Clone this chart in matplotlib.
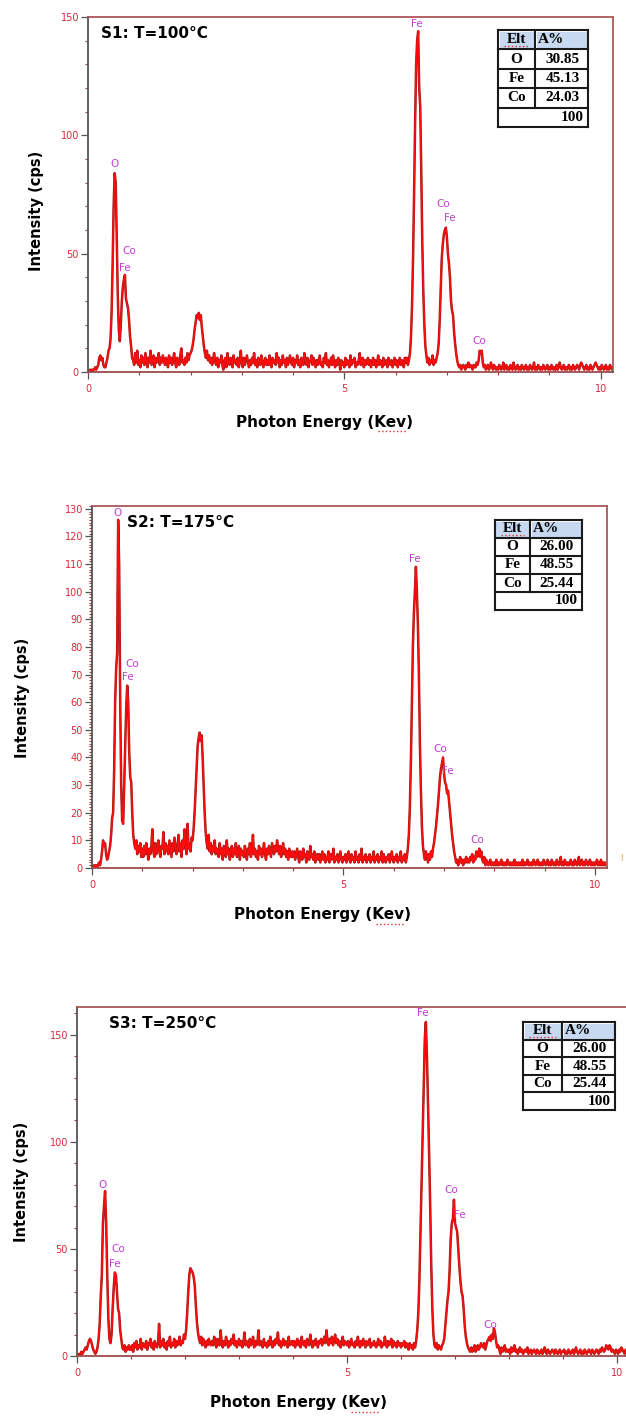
import numpy as np
import matplotlib
matplotlib.use('Agg')
import matplotlib.pyplot as plt
from matplotlib.patches import Rectangle
from matplotlib.lines import Line2D
from matplotlib.ticker import MultipleLocator

W, H = 626, 1416
STEP = 0.02  # keV per channel

# counts (cps) per 0.02 keV channel
s1_counts = [
    0,0,1,0,1, 1,1,2,1,2, 3,6,7,5,6, 3,2,2,4,6, 9,10,14,25,45,
    70,84,80,58,33, 18,13,20,30,36, 39,41,31,29,27, 22,15,11,6,5, 3,8,4,9,3,
    5,2,7,4,6, 3,8,5,2,6, 4,9,3,5,7, 2,6,4,5,8, 3,6,4,7,5,
    3,6,5,2,7, 4,6,3,5,8, 4,2,6,5,3, 7,10,4,5,3, 6,4,8,5,7,
    8,9,11,14,18, 21,24,23,25,22, 24,19,15,11,8, 6,9,5,7,4, 6,3,5,8,4,
    3,6,2,5,4, 7,3,1,5,6, 2,8,4,3,6, 5,2,7,4,5, 3,6,2,4,9,
    4,2,6,3,5, 7,4,2,5,3, 6,4,8,3,5, 2,6,4,3,7, 5,2,4,6,3,
    5,3,7,4,2, 6,4,5,3,8, 4,6,2,5,3, 7,4,5,2,6, 3,5,7,4,3,
    6,2,5,4,7, 3,5,2,6,4, 3,8,5,3,6, 2,4,5,7,3, 6,4,2,5,3,
    5,7,3,4,2, 6,4,8,3,5, 2,4,6,3,7, 4,2,5,3,6, 4,1,5,3,4,
    2,6,3,5,4, 2,7,3,5,4, 6,2,4,3,5, 8,3,4,6,2, 5,3,4,6,3,
    5,2,4,6,3, 5,2,4,7,3, 5,4,2,6,3, 4,5,2,6,4, 3,5,2,4,6,
    3,5,2,4,6, 3,5,4,2,6, 4,6,3,5,8, 15,28,48,75,105, 130,140,144,120,112,
    85,55,34,20,11, 7,4,6,3,5, 4,7,3,5,4, 6,8,12,22,35, 48,54,58,60,61,
    57,50,46,40,30, 26,24,17,12,8, 5,3,2,3,1, 2,3,2,1,3, 2,4,2,3,2,
    1,3,2,2,4, 3,5,9,8,9, 4,2,3,1,2, 3,1,2,4,2, 1,3,2,1,2,
    1,3,2,1,2, 4,1,2,3,1, 2,1,3,2,1, 4,2,1,2,3, 1,2,1,3,2,
    1,2,3,1,2, 1,3,2,1,2, 4,1,2,1,3, 2,1,2,1,3, 2,1,2,3,1,
    2,1,3,2,1, 2,1,3,1,2, 4,2,1,2,3, 1,2,1,2,3, 1,2,1,3,2,
    1,2,3,2,1, 3,4,3,2,1, 2,3,1,2,1, 3,2,1,2,3, 4,3,2,1,2,
    1,3,2,1,2, 3,1,2,1,3, 2,1,2,
]
s2_counts = [
    0,0,1,0,1, 0,1,2,1,3, 6,10,8,9,5, 3,4,6,8,12, 18,20,35,60,72,
    78,126,110,62,30, 17,16,30,45,58, 66,60,42,33,31, 20,12,9,7,10, 5,8,6,9,4,
    7,4,8,5,9, 6,3,7,5,8, 14,6,4,9,5, 7,10,6,4,8, 7,13,5,9,6,
    8,5,10,7,4, 9,6,11,8,5, 7,12,6,9,4, 10,7,14,8,5, 16,7,9,6,11,
    10,14,20,28,36, 44,47,49,46,48, 40,30,20,13,9, 7,12,6,9,5, 8,6,10,5,7,
    6,4,9,5,7, 3,8,6,4,10, 5,7,3,6,8, 4,7,5,9,4, 6,8,3,7,5,
    6,4,8,5,3, 7,5,9,4,6, 12,5,7,4,6, 3,8,5,7,4, 6,9,5,3,7,
    5,8,6,4,9, 7,5,8,6,10, 7,5,8,4,6, 9,5,7,4,6, 3,7,5,4,6,
    4,6,3,5,7, 4,2,6,5,3, 7,4,5,2,6, 4,3,8,4,5, 3,6,2,4,5,
    3,5,2,4,6, 3,5,2,4,3, 6,2,5,3,4, 7,2,4,3,5, 2,4,6,3,2,
    4,3,5,2,4, 6,3,2,5,3, 4,2,6,3,4, 2,5,3,7,2, 4,3,5,2,4,
    3,5,2,4,3, 6,2,4,3,5, 2,4,3,6,2, 5,3,2,4,3, 5,2,4,6,3,
    2,4,3,5,2, 4,3,6,2,4, 3,5,2,4,7, 12,22,38,58,80, 92,100,109,100,88,
    70,45,28,15,8, 5,3,6,4,2, 5,3,6,4,7, 9,12,15,19,23, 28,33,36,38,40,
    34,31,30,27,28, 24,20,16,12,9, 6,4,2,3,1, 2,4,2,3,1, 3,2,4,2,3,
    2,4,3,5,2, 4,3,6,4,5, 7,4,6,3,2, 4,1,3,2,1, 2,3,1,2,1,
    2,1,3,1,2, 1,2,3,1,2, 1,2,1,3,2, 1,2,1,2,1, 3,1,2,1,2,
    1,2,1,3,1, 2,1,2,3,1, 2,1,2,1,3, 2,1,2,3,1, 2,1,2,1,3,
    2,1,2,3,1, 2,1,3,2,1, 2,1,3,2,1, 2,4,1,2,1, 3,2,1,2,1,
    2,3,1,2,1, 3,2,1,2,4, 1,2,3,1,2, 1,3,2,1,2, 3,1,2,1,2,
    1,2,3,1,2, 1,3,1,2,1, 2,1,1,
]
s3_counts = [
    0,0,1,0,2, 1,2,3,4,3, 5,7,8,7,5, 3,2,1,2,4, 8,15,28,38,62,
    70,77,62,38,18, 8,6,10,22,32, 39,38,30,22,20, 12,8,4,3,5, 2,4,3,5,3,
    3,5,2,6,4, 7,3,5,4,8, 3,6,5,4,7, 3,6,5,8,4, 6,3,7,5,4,
    6,15,4,7,5, 8,4,6,3,7, 5,9,4,6,5, 8,4,7,5,6, 9,5,7,6,10,
    8,12,20,30,38, 41,40,39,37,33, 24,16,11,8,6, 9,5,8,6,4, 7,5,8,6,5,
    7,5,9,6,4, 8,6,5,12,6, 4,7,5,9,6, 4,7,5,8,6, 10,5,7,4,6,
    8,5,7,4,6, 11,5,7,6,4, 8,5,6,9,4, 7,5,6,12,5, 7,6,4,8,5,
    6,4,7,5,9, 6,4,7,5,8, 6,11,5,7,4, 6,8,5,7,6, 4,9,5,6,7,
    5,7,4,6,8, 5,7,4,9,6, 5,7,4,8,6, 5,10,6,4,7, 5,8,6,4,7,
    6,8,5,7,9, 6,12,7,5,8, 6,9,5,7,10, 6,8,5,7,4, 6,9,5,7,6,
    5,7,4,6,8, 5,6,4,7,5, 9,6,4,7,5, 8,6,4,7,5, 6,8,4,6,5,
    7,5,4,6,8, 5,7,4,6,5, 9,6,4,7,5, 6,8,4,7,5, 6,4,7,5,6,
    4,6,5,7,4, 6,5,3,6,4, 5,3,6,4,7, 12,20,35,58,80, 105,128,148,156,140,
    118,95,70,42,22, 10,5,4,6,3, 5,4,3,5,6, 8,14,20,26,30, 40,55,62,64,73,
    62,60,58,50,42, 35,30,28,22,14, 9,6,4,3,2, 4,2,3,5,2, 3,5,3,4,6,
    5,4,6,3,5, 7,8,9,7,10, 8,13,11,7,4, 5,3,1,4,2, 3,5,2,3,2,
    3,1,4,2,3, 5,2,3,1,2, 4,2,3,1,2, 3,2,4,1,2, 3,1,2,3,2,
    1,3,2,1,2, 3,1,2,4,2, 1,3,2,1,2, 3,2,1,3,2, 1,2,3,1,2,
    2,3,1,2,1, 3,2,1,2,3, 1,2,4,2,1, 2,3,1,2,1, 3,2,1,2,3,
    2,1,3,2,1, 2,3,2,1,3, 2,4,3,2,3, 5,4,3,5,4, 2,3,2,1,3,
    2,1,3,2,4, 3,2,1,3,2, 1,2,3,
]

titles = ['S1: T=100°C', 'S2: T=175°C', 'S3: T=250°C']
elements = ['O', 'Fe', 'Co']
s1_atomic = ['30.85', '45.13', '24.03']
s2_atomic = ['26.00', '48.55', '25.44']
s3_atomic = ['26.00', '48.55', '25.44']
total = '100'

peak_names = ['O', 'Co', 'Fe', 'Fe', 'Co', 'Fe', 'Co']
s1_peak_x = [0.51, 0.80, 0.72, 6.41, 6.92, 7.06, 7.64]
s1_peak_y = [88, 51, 44, 147, 71, 65, 13]
s2_peak_x = [0.50, 0.80, 0.71, 6.41, 6.93, 7.07, 7.66]
s2_peak_y = [128.5, 74, 69, 112, 43, 35, 10]
s3_peak_x = [0.48, 0.77, 0.70, 6.41, 6.93, 7.08, 7.65]
s3_peak_y = [80, 50, 43, 160, 77.5, 66, 14.5]

# layout in pixels of the reference: (left, top, right, bottom)
ax_boxes = [(88, 17, 613, 372), (92, 506, 607, 868), (77, 1007, 630, 1356)]
ylims = [150, 131, 163]
ymajor = [50, 10, 50]
yminor = [10, 1, 10]
table_boxes = [(498, 30, 588, 127, 535), (495, 520, 582, 610, 530), (523, 1022, 615, 1110, 562)]
title_pos = [(101, 33), (127, 523), (109, 1023)]
ylabel_pos = [(36, 211), (23, 698), (22, 1182)]
xlabel_pos = [(325, 423), (323, 915), (298, 1403)]

fig = plt.figure(figsize=(W / 100, H / 100), dpi=100)


def fx(px):
    return px / W


def fy(py):
    return 1 - py / H


def line(x0, y0, x1, y1, **kw):
    fig.add_artist(Line2D([fx(x0), fx(x1)], [fy(y0), fy(y1)], transform=fig.transFigure, **kw))


def draw_table(box, values):
    left, top, right, bottom, split = box
    rows = [('Elt', 'A%')] + list(zip(elements, values)) + [('', total)]
    rh = (bottom - top) / len(rows)
    for c0, c1 in [(left, split), (split, right)]:
        fig.add_artist(Rectangle((fx(c0 + 1.5), fy(top + rh - 1)), (c1 - c0 - 3) / W, (rh - 2.5) / H,
                                 transform=fig.transFigure, facecolor='#c6d9f1', edgecolor='none'))
    k = dict(color='#1a1a1a', lw=1.5)
    for i in range(len(rows) + 1):
        line(left, top + i * rh, right, top + i * rh, **k)
    line(left, top, left, bottom, **k)
    line(right, top, right, bottom, **k)
    line(split, top, split, bottom - rh, **k)
    f = dict(family='Liberation Serif', weight='bold', size=11, va='center')
    for i, (a, b) in enumerate(rows):
        yc = fy(top + (i + 0.5) * rh)
        fig.text(fx((left + split) / 2), yc, a, ha='center', **f)
        if i == 0:
            fig.text(fx(split + 3), yc, b, ha='left', **f)
        elif i == len(rows) - 1:
            fig.text(fx(right - 4), yc, b, ha='right', **f)
        else:
            fig.text(fx((split + right) / 2 + 1), yc, b, ha='center', **f)
    line(left + 6, top + rh - 3, split - 6, top + rh - 3, color='#e03030', lw=1, ls=':')


all_counts = [s1_counts, s2_counts, s3_counts]
all_atomic = [s1_atomic, s2_atomic, s3_atomic]
all_px = [s1_peak_x, s2_peak_x, s3_peak_x]
all_py = [s1_peak_y, s2_peak_y, s3_peak_y]

renderer = fig.canvas.get_renderer()
for i in range(3):
    l, t, r, b = ax_boxes[i]
    ax = fig.add_axes([fx(l), fy(b), (r - l) / W, (b - t) / H])
    counts = np.array(all_counts[i])
    energy = np.arange(len(counts)) * STEP
    ax.plot(energy, counts, color='#a81818', lw=1.8)
    ax.plot(energy, counts, color='#ff0d0d', lw=1.0)
    ax.set_xlim(0, 10.24)
    ax.set_ylim(0, ylims[i])
    ax.xaxis.set_major_locator(MultipleLocator(5))
    ax.xaxis.set_minor_locator(MultipleLocator(1))
    ax.yaxis.set_major_locator(MultipleLocator(ymajor[i]))
    ax.yaxis.set_minor_locator(MultipleLocator(yminor[i]))
    ax.tick_params(which='major', length=5, width=0.9, color='#555555',
                   labelsize=7, labelcolor='#d62a3a', pad=1.5)
    ax.tick_params(which='minor', length=2.5, width=0.8, color='#a03a3a')
    ax.tick_params(axis='x', which='both', pad=4)
    ax.spines['top'].set_color('#a85858')
    ax.spines['right'].set_color('#a85858')
    ax.spines['left'].set_color('#555555')
    ax.spines['bottom'].set_color('#9b4b4b')
    for s in ax.spines.values():
        s.set_linewidth(1.3)
    for name, x, y in zip(peak_names, all_px[i], all_py[i]):
        ax.text(x, y, name, color='#c040d0', size=7.5, ha='center', va='center')

    fig.text(fx(title_pos[i][0]), fy(title_pos[i][1]), titles[i], ha='left', va='center',
             weight='bold', size=11)
    fig.text(fx(ylabel_pos[i][0]), fy(ylabel_pos[i][1]), 'Intensity (cps)', rotation=90,
             ha='center', va='center', weight='bold', size=10.5)
    xl = fig.text(fx(xlabel_pos[i][0]), fy(xlabel_pos[i][1]), 'Photon Energy (Kev)',
                  ha='center', va='center', weight='bold', size=11)
    bb = xl.get_window_extent(renderer)
    fig.add_artist(Line2D([(bb.x0 + 0.8 * bb.width) / W, (bb.x0 + 0.96 * bb.width) / W],
                          [(bb.y0 - 1) / H, (bb.y0 - 1) / H], transform=fig.transFigure,
                          color='#e03030', lw=1, ls=':'))
    draw_table(table_boxes[i], all_atomic[i])

fig.text(fx(621), fy(858), 'I', color='#f0a040', size=6, ha='center', va='center')

fig.savefig('out.png', dpi=100)
